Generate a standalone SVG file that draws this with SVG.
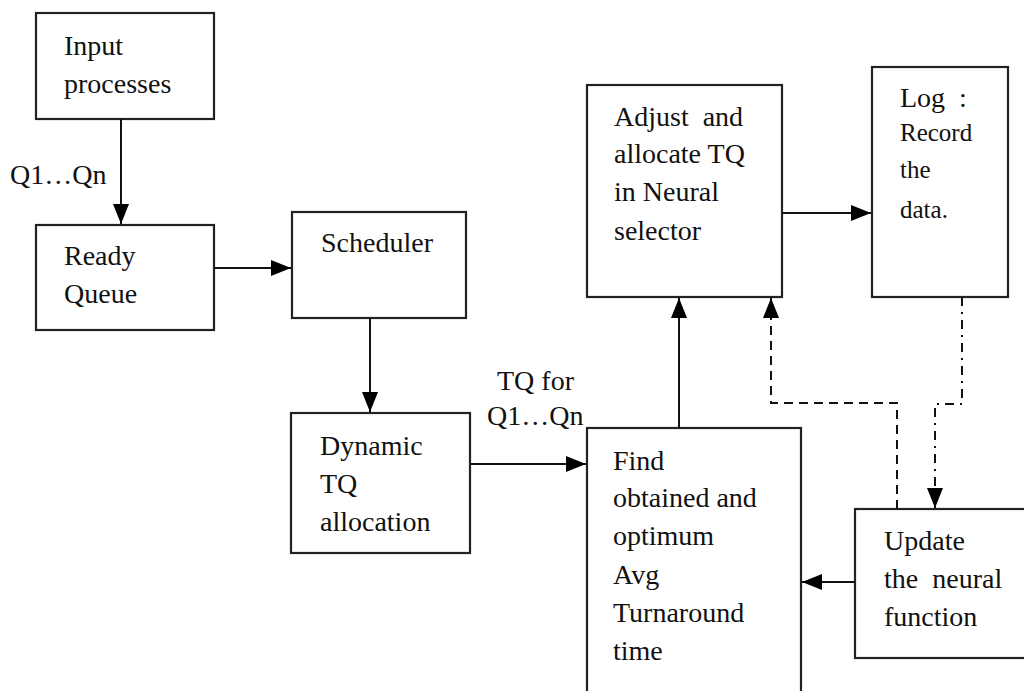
<svg xmlns="http://www.w3.org/2000/svg" width="1024" height="691" viewBox="0 0 1024 691">
<defs>
<marker id="ah" viewBox="0 0 20 16" refX="20" refY="8" markerWidth="20" markerHeight="16" markerUnits="userSpaceOnUse" orient="auto">
<path d="M0,0 L20,8 L0,16 Z" fill="#000"/>
</marker>
</defs>
<rect width="1024" height="691" fill="#fff"/>
<g id="input">
<rect x="36" y="13" width="178" height="106" fill="#fff" stroke="#222" stroke-width="2.2"/>
<text x="64" y="55" font-family="Liberation Serif" font-size="28" fill="#111">Input</text>
<text x="64" y="93" font-family="Liberation Serif" font-size="28" fill="#111">processes</text>
</g>
<g id="ready">
<rect x="36" y="225" width="178" height="105" fill="#fff" stroke="#222" stroke-width="2.2"/>
<text x="64" y="265" font-family="Liberation Serif" font-size="28" fill="#111">Ready</text>
<text x="64" y="303" font-family="Liberation Serif" font-size="28" fill="#111">Queue</text>
</g>
<g id="scheduler">
<rect x="292" y="212" width="174" height="106" fill="#fff" stroke="#222" stroke-width="2.2"/>
<text x="321" y="252" font-family="Liberation Serif" font-size="28" fill="#111">Scheduler</text>
</g>
<g id="dynamic">
<rect x="291" y="413" width="179" height="140" fill="#fff" stroke="#222" stroke-width="2.2"/>
<text x="320" y="455" font-family="Liberation Serif" font-size="28" fill="#111">Dynamic</text>
<text x="320" y="493" font-family="Liberation Serif" font-size="28" fill="#111">TQ</text>
<text x="320" y="531" font-family="Liberation Serif" font-size="28" fill="#111">allocation</text>
</g>
<g id="find">
<rect x="587" y="428" width="214" height="270" fill="#fff" stroke="#222" stroke-width="2.2"/>
<text x="613" y="470" font-family="Liberation Serif" font-size="28" fill="#111">Find</text>
<text x="613" y="507" font-family="Liberation Serif" font-size="28" fill="#111">obtained and</text>
<text x="613" y="545" font-family="Liberation Serif" font-size="28" fill="#111">optimum</text>
<text x="613" y="584" font-family="Liberation Serif" font-size="28" fill="#111">Avg</text>
<text x="613" y="622" font-family="Liberation Serif" font-size="28" fill="#111">Turnaround</text>
<text x="613" y="660" font-family="Liberation Serif" font-size="28" fill="#111">time</text>
</g>
<g id="adjust">
<rect x="587" y="85" width="195" height="212" fill="#fff" stroke="#222" stroke-width="2.2"/>
<text x="614" y="126" font-family="Liberation Serif" font-size="28" fill="#111" xml:space="preserve">Adjust  and</text>
<text x="614" y="163" font-family="Liberation Serif" font-size="28" fill="#111">allocate TQ</text>
<text x="614" y="201" font-family="Liberation Serif" font-size="28" fill="#111">in Neural</text>
<text x="614" y="240" font-family="Liberation Serif" font-size="28" fill="#111">selector</text>
</g>
<g id="log">
<rect x="872" y="67" width="136" height="230" fill="#fff" stroke="#222" stroke-width="2.2"/>
<text x="900" y="107" font-family="Liberation Serif" font-size="28" fill="#111" xml:space="preserve">Log  :</text>
<text x="900" y="141" font-family="Liberation Serif" font-size="25" fill="#111">Record</text>
<text x="900" y="178" font-family="Liberation Serif" font-size="25" fill="#111">the</text>
<text x="900" y="218" font-family="Liberation Serif" font-size="25" fill="#111">data.</text>
</g>
<g id="update">
<rect x="855" y="509" width="180" height="149" fill="#fff" stroke="#222" stroke-width="2.2"/>
<text x="884" y="550" font-family="Liberation Serif" font-size="28" fill="#111">Update</text>
<text x="884" y="588" font-family="Liberation Serif" font-size="28" fill="#111" xml:space="preserve">the  neural</text>
<text x="884" y="626" font-family="Liberation Serif" font-size="28" fill="#111">function</text>
</g>
<g id="connectors" fill="none" stroke="#111" stroke-width="2">
<path d="M121,119 V224" marker-end="url(#ah)"/>
<path d="M214,268 H291" marker-end="url(#ah)"/>
<path d="M370,318 V412" marker-end="url(#ah)"/>
<path d="M470,464 H586" marker-end="url(#ah)"/>
<path d="M679,428 V298" marker-end="url(#ah)"/>
<path d="M782,213 H871" marker-end="url(#ah)"/>
<path d="M855,582 H802" marker-end="url(#ah)"/>
<path d="M897,509 V403 H771 V298" stroke-dasharray="9,6" marker-end="url(#ah)"/>
<path d="M962,297 V404 H935 V508" stroke-dasharray="9,6,2,6" marker-end="url(#ah)"/>
<text x="10" y="184" font-family="Liberation Serif" font-size="28" fill="#111" stroke="none">Q1…Qn</text>
<text x="497" y="390" font-family="Liberation Serif" font-size="28" fill="#111" stroke="none">TQ for</text>
<text x="487" y="425" font-family="Liberation Serif" font-size="28" fill="#111" stroke="none">Q1…Qn</text>
</g>
</svg>
